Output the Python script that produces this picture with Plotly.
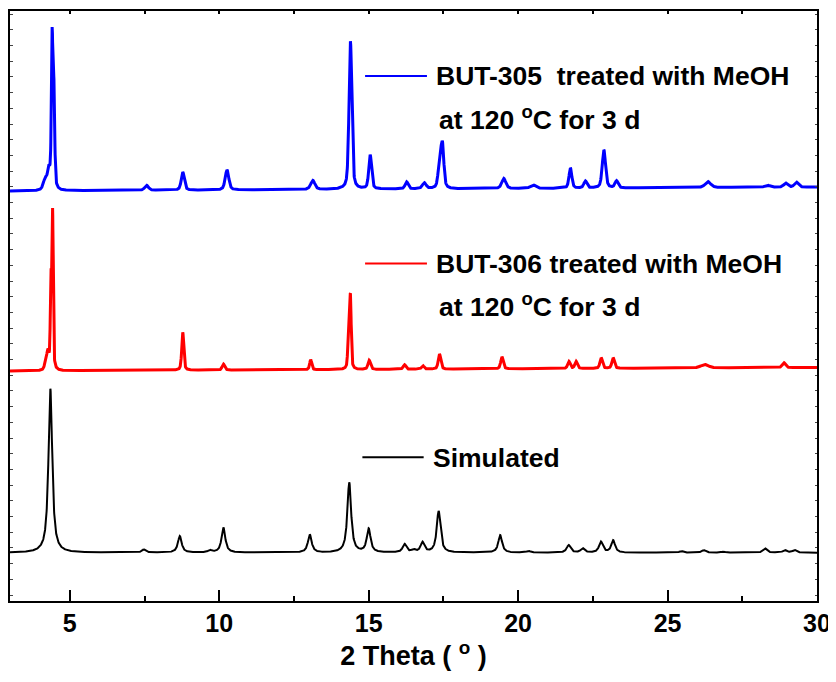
import numpy as np
import plotly.graph_objects as go

# ---------------- data ----------------
# peak lists: position (2theta, deg), height (arb. units above baseline), FWHM (deg)
blue_pos = [4.18, 4.30, 4.41, 4.47, 7.57, 8.78, 10.26, 13.13, 14.39, 15.05, 16.27, 16.86,
            17.38, 17.47, 19.52, 20.50, 21.75, 22.25, 22.87, 23.29, 26.35, 28.34, 28.95, 29.31]
blue_hgt = [11, 18, 150, 92, 5, 18, 20, 9, 148, 34, 7, 6,
            28, 40, 10, 3.5, 20, 7, 38, 7, 6, 2, 4, 5]
blue_fwhm = [0.15, 0.10, 0.06, 0.06, 0.15, 0.12, 0.14, 0.16, 0.11, 0.11, 0.12, 0.15,
             0.12, 0.11, 0.16, 0.20, 0.11, 0.12, 0.13, 0.12, 0.22, 0.20, 0.15, 0.15]
blue_bg_x = [3, 30]
blue_bg_y = [410, 414]

red_pos = [4.20, 4.27, 4.37, 4.425, 8.78, 10.14, 13.06, 14.33, 14.39, 15.02, 16.20, 16.81,
           17.37, 19.46, 21.70, 21.94, 22.78, 23.18, 26.24, 28.89]
red_hgt = [8, 16, 85, 154, 38, 6, 10, 42, 71, 9, 4.5, 3.5,
           15, 12, 7, 7, 10.5, 10.5, 3.5, 5]
red_fwhm = [0.10, 0.08, 0.05, 0.05, 0.08, 0.10, 0.08, 0.06, 0.06, 0.10, 0.10, 0.10,
            0.10, 0.10, 0.10, 0.10, 0.10, 0.10, 0.30, 0.12]
red_bg_x = [3, 30]
red_bg_y = [230, 233.5]

sim_pos = [4.35, 7.48, 8.68, 9.69, 10.14, 13.03, 14.35, 15.00, 16.20, 16.50, 16.80, 17.34,
           19.40, 20.35, 21.69, 22.16, 22.77, 23.18, 24.26, 25.46, 26.22, 26.87, 28.26, 28.92, 29.25]
sim_hgt = [164, 3.2, 16.5, 2.2, 25, 18, 70, 23.5, 8.3, 2.5, 10, 41.5,
           17.5, 1.6, 7.5, 4.2, 10.8, 12.2, 0.7, 1.6, 2.6, 1.0, 4.3, 2.6, 2.6]
sim_fwhm = 0.15
sim_bg = 48.3

x_ticks = [5, 10, 15, 20, 25, 30]
names = ["BUT-305  treated with MeOH", "BUT-306 treated with MeOH", "Simulated"]
cond_text = "at 120 <sup>o</sup>C for 3 d"

# ---------------- profiles ----------------
tt = np.round(np.arange(3.0, 30.0001, 0.005), 4)


def pv(x, pos, hgt, fwhm, eta):
    y = np.zeros_like(x)
    if np.isscalar(fwhm):
        fwhm = [fwhm] * len(pos)
    for p, h, w in zip(pos, hgt, fwhm):
        hw = w / 2.0
        lor = 1.0 / (1.0 + ((x - p) / hw) ** 2)
        gau = np.exp(-np.log(2) * ((x - p) / hw) ** 2)
        y += h * (eta * lor + (1 - eta) * gau)
    return y


blue_y = np.interp(tt, blue_bg_x, blue_bg_y) + pv(tt, blue_pos, blue_hgt, blue_fwhm, 0.45)
red_y = np.interp(tt, red_bg_x, red_bg_y) + pv(tt, red_pos, red_hgt, red_fwhm, 0.45)
sim_y = sim_bg + pv(tt, sim_pos, sim_hgt, sim_fwhm, 0.9)

FONT = "Liberation Sans, Arial, sans-serif"

fig = go.Figure()
fig.add_trace(go.Scatter(x=tt, y=blue_y, mode="lines", line=dict(color="#0000ff", width=3),
                         name=names[0], showlegend=False))
fig.add_trace(go.Scatter(x=tt, y=red_y, mode="lines", line=dict(color="#ff0000", width=3),
                         name=names[1], showlegend=False))
fig.add_trace(go.Scatter(x=tt, y=sim_y, mode="lines", line=dict(color="#000000", width=2),
                         name=names[2], showlegend=False))
# invisible trace to activate the top x-axis (short minor ticks)
fig.add_trace(go.Scatter(x=[3, 30], y=[None, None], xaxis="x2", yaxis="y2",
                         showlegend=False, hoverinfo="skip"))

# legend-like labels
leg = [
    dict(color="#0000ff", x0=14.88, x1=16.95, y=525, tx=17.2, ty=525, t2x=17.29, t2y=483.5, t=names[0], t2=cond_text),
    dict(color="#ff0000", x0=14.88, x1=16.95, y=337.5, tx=17.2, ty=337, t2x=17.29, t2y=296, t=names[1], t2=cond_text),
    dict(color="#000000", x0=14.79, x1=16.84, y=143.7, tx=17.1, ty=143.5, t=names[2]),
]
for L in leg:
    fig.add_shape(type="line", xref="x", yref="y", x0=L["x0"], x1=L["x1"], y0=L["y"], y1=L["y"],
                  line=dict(color=L["color"], width=2))
    fig.add_annotation(x=L["tx"], y=L["ty"], xref="x", yref="y", text=L["t"], showarrow=False,
                       xanchor="left", yanchor="middle",
                       font=dict(family=FONT, size=26.5, color="black", weight="bold"))
    if "t2" in L:
        fig.add_annotation(x=L["t2x"], y=L["t2y"], xref="x", yref="y", text=L["t2"], showarrow=False,
                           xanchor="left", yanchor="middle",
                           font=dict(family=FONT, size=26.5, color="black", weight="bold"))

# page body has an 8px margin: size/margins chosen so the plot frame lands where the reference has it
fig.update_layout(
    width=828, height=674,
    margin=dict(l=2, r=19, t=3, b=81),
    paper_bgcolor="white", plot_bgcolor="white",
    xaxis=dict(range=[3, 30], tickvals=x_ticks, ticktext=[str(v) for v in x_ticks],
               ticks="inside", ticklen=11, tickwidth=2, tickcolor="black",
               minor=dict(dtick=2.5, tick0=0, ticks="inside", ticklen=5, tickwidth=2, tickcolor="black"),
               showline=True, linewidth=2, linecolor="black", mirror=True,
               showgrid=False, zeroline=False, ticklabeloverflow="allow",
               tickfont=dict(family=FONT, size=25, color="black", weight="bold"),
               ticklabelstandoff=-1,
               title=dict(text="2 Theta ( <sup>o</sup> )", standoff=0,
                          font=dict(family=FONT, size=27, color="black", weight="bold"))),
    xaxis2=dict(range=[3, 30], overlaying="x", side="top", dtick=2.5, tick0=0,
                ticks="inside", ticklen=3, tickwidth=1.5, tickcolor="black",
                showticklabels=False, showgrid=False, zeroline=False, showline=False),
    yaxis=dict(range=[0, 590], tick0=6, dtick=15.7, ticks="inside", ticklen=2.5, tickwidth=1,
               tickcolor="#444", showticklabels=False, showgrid=False, zeroline=False,
               showline=True, linewidth=2, linecolor="black", mirror="ticks"),
    yaxis2=dict(range=[0, 590], overlaying="y", showticklabels=False, showgrid=False,
                zeroline=False, showline=False, ticks=""),
)

fig.write_html("out.html")
